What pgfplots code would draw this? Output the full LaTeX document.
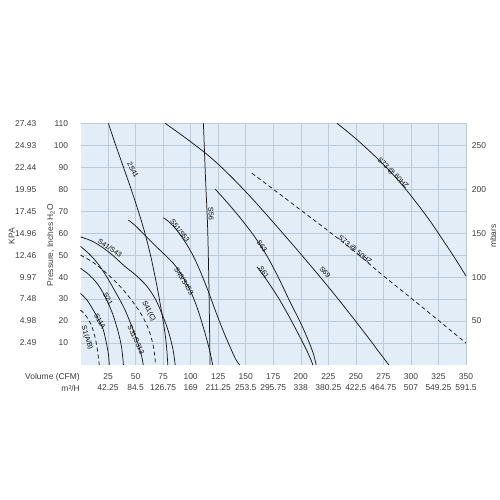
\documentclass[border=0pt]{standalone}
\usepackage{fontspec}
\setmainfont{Liberation Sans}
\usepackage{pgfplots}
\pgfplotsset{compat=1.18}
\definecolor{bgblue}{RGB}{226,237,247}
\definecolor{gridc}{RGB}{186,202,217}
\definecolor{txt}{RGB}{60,60,60}
\definecolor{crv}{RGB}{25,25,25}
\newcommand{\tickf}{\fontsize{8.5}{10}\selectfont}
\newcommand{\labf}{\fontsize{7}{8}\selectfont}
\begin{document}
\begin{tikzpicture}
\useasboundingbox (-80.5bp,-135bp) rectangle (419.5bp,365bp);
\begin{axis}[at={(0,0)},anchor=south west,scale only axis,
  width=385.5bp,height=241.7bp,
  xmin=0,xmax=350,ymin=0,ymax=110,
  xtick={25,50,...,350},ytick={10,20,...,110},
  xticklabels={},yticklabels={},
  major tick length=0pt,grid=major,
  major grid style={gridc,line width=0.5pt},
  axis line style={draw=none},
  axis background/.style={fill=bgblue},
  clip=false,
  cv/.style={crv,line width=0.75pt,smooth,mark=none},
  dsh/.style={cv,dash pattern=on 4pt off 3pt}]
% S1(A/B)
\addplot[dsh] coordinates {(0,25) (4,23) (8,20) (11,16.5) (13.5,12) (15.3,7) (16.5,2.5) (17,0)};
% S11A
\addplot[cv] coordinates {(0,32.6) (6,29.5) (11.6,25) (16,21) (20.7,16) (23.5,10) (25.3,5) (26.2,0)};
% S21
\addplot[cv] coordinates {(0,44) (8,41) (16,36.5) (23,30.5) (29,23.5) (34,15.5) (37.3,8) (39,0)};
% S31/S313
\addplot[cv] coordinates {(0,54) (8,50.5) (16,46) (24,40) (32,33) (40,25.5) (47,17) (52,10) (55.5,4) (57,0)};
% S41(C)
\addplot[dsh] coordinates {(0,50) (10,47.2) (20,43.4) (30,38.8) (40,33.5) (50,27) (57,21.5) (62,16) (65.5,10) (67.5,4) (68,0)};
% S41/S43
\addplot[cv] coordinates {(0,58.3) (10,56.5) (20,53.5) (30,49.6) (40,45) (50,41) (60,36) (68,30) (75,22) (80,15) (84,7) (86,0)};
% 2S41
\addplot[cv] coordinates {(25.3,110) (32,100) (39,90) (46,80) (52.5,70) (58.5,60) (64,49) (69,37) (73,26) (76,17) (78,9) (79.3,0)};
% S45/S453
\addplot[cv] coordinates {(43.5,66) (50,63.3) (58.6,59) (70,53.3) (84.4,46.2) (93,40) (100,33.5) (106,26) (111,18) (115,11) (118,5) (120,0)};
% S51/S53
\addplot[cv] coordinates {(75.3,67) (80,65.3) (87.4,61.4) (95,56) (102,50) (108,43.5) (116.2,33.3) (123,24) (130,15) (136,8) (141,2.5) (144.5,0)};
% S56
\addplot[cv] coordinates {(111.6,110) (113.5,85) (115.5,61.4) (116.8,30) (117.6,0)};
% S69
\addplot[cv] coordinates {(76.8,110) (90,105.3) (100,101.6) (113,96.6) (125,91.4) (139,84.6) (155,76.2) (170,67.8) (185,59.2) (200,50.5) (215,41.6) (230,32.5) (245,23) (260,13.3) (270,6.6) (280,0)};
% S63
\addplot[cv] coordinates {(122.3,80) (130,75.8) (140,70) (150,63.8) (160,57) (170,49) (180,39.5) (190,29) (200,19) (207,11) (211.5,5) (214,0)};
% S61
\addplot[cv] coordinates {(160.2,44.7) (170,38) (180,30.3) (190,21.5) (200,12) (206,6) (209.5,2) (211,0)};
% S73 @ 50HZ
\addplot[dsh] coordinates {(155.6,87.3) (175,80) (200,70.5) (225,61) (250,51.2) (272.3,41.7) (300,30.5) (325,20.3) (350,10)};
% S73 @ 60HZ
\addplot[cv] coordinates {(232.9,110) (250,103) (269.3,94.1) (285,86) (299.5,77.4) (317.7,65.3) (338.9,49.4) (350,40.5)};
% curve labels
\node[font=\labf,rotate=-45] at (axis cs:283.7,87.4) {S73 @ 60HZ};
\node[font=\labf,rotate=-39] at (axis cs:249.2,52.3) {S73 @ 50HZ};
\node[font=\labf,rotate=-48] at (axis cs:222,42.3) {S69};
\node[font=\labf,rotate=-53] at (axis cs:164.8,54.2) {S63};
\node[font=\labf,rotate=-55] at (axis cs:166.6,42.3) {S61};
\node[font=\labf,rotate=-87] at (axis cs:118.5,68.7) {S56};
\node[font=\labf,rotate=-52] at (axis cs:90.3,61) {S51/S53};
\node[font=\labf,rotate=-58] at (axis cs:94,38.2) {S45/S453};
\node[font=\labf,rotate=-63] at (axis cs:47.7,88.7) {2S41};
\node[font=\labf,rotate=-33] at (axis cs:26.8,53.2) {S41/S43};
\node[font=\labf,rotate=-63,inner sep=1pt] at (axis cs:62,24.5) {S41(C)};
\node[font=\labf,rotate=-65,inner sep=1pt] at (axis cs:50.5,11.5) {S31/S313};
\node[font=\labf,rotate=-60] at (axis cs:25,30) {S21};
\node[font=\labf,rotate=-60] at (axis cs:17.7,20) {S11A};
\node[font=\labf,rotate=-72] at (axis cs:5.9,12.3) {S1(A/B)};
\end{axis}
\begin{scope}[x=1.10143bp,y=2.19727bp,every node/.style={txt,font=\tickf,inner sep=0pt}]
\foreach \v/\k in {10/2.49,20/4.98,30/7.48,40/9.97,50/12.46,60/14.96,70/17.45,80/19.95,90/22.44,100/24.93,110/27.43}{
  \node[anchor=east] at ([xshift=-12.2bp]0,\v) {\v};
  \node[anchor=east] at ([xshift=-44bp]0,\v) {\k};
}
\foreach \c/\m in {25/42.25,50/84.5,75/126.75,100/169,125/211.25,150/253.5,175/295.75,200/338,225/380.25,250/422.5,275/464.75,300/507,325/549.25,350/591.5}{
  \node at ([yshift=-12bp]\c,0) {\c};
  \node at ([yshift=-23bp]\c,0) {\m};
}
\foreach \p/\m in {20/50,40/100,60/150,80/200,100/250}{
  \node[anchor=west] at ([xshift=5.7bp]350,\p) {\m};
}
\node[anchor=east] at ([xshift=-0.5bp,yshift=-12bp]0,0) {Volume (CFM)};
\node[anchor=east] at ([xshift=-0.5bp,yshift=-23bp]0,0) {m³/H};
\node[rotate=90] at ([xshift=27bp]350,58.7) {mbars};
\node[rotate=90] at ([xshift=-68.8bp]0,58.7) {KPA};
\node[rotate=90] at ([xshift=-29.7bp]0,54.6) {Pressure, Inches H\textsubscript{2}O};
\end{scope}
\end{tikzpicture}
\end{document}
